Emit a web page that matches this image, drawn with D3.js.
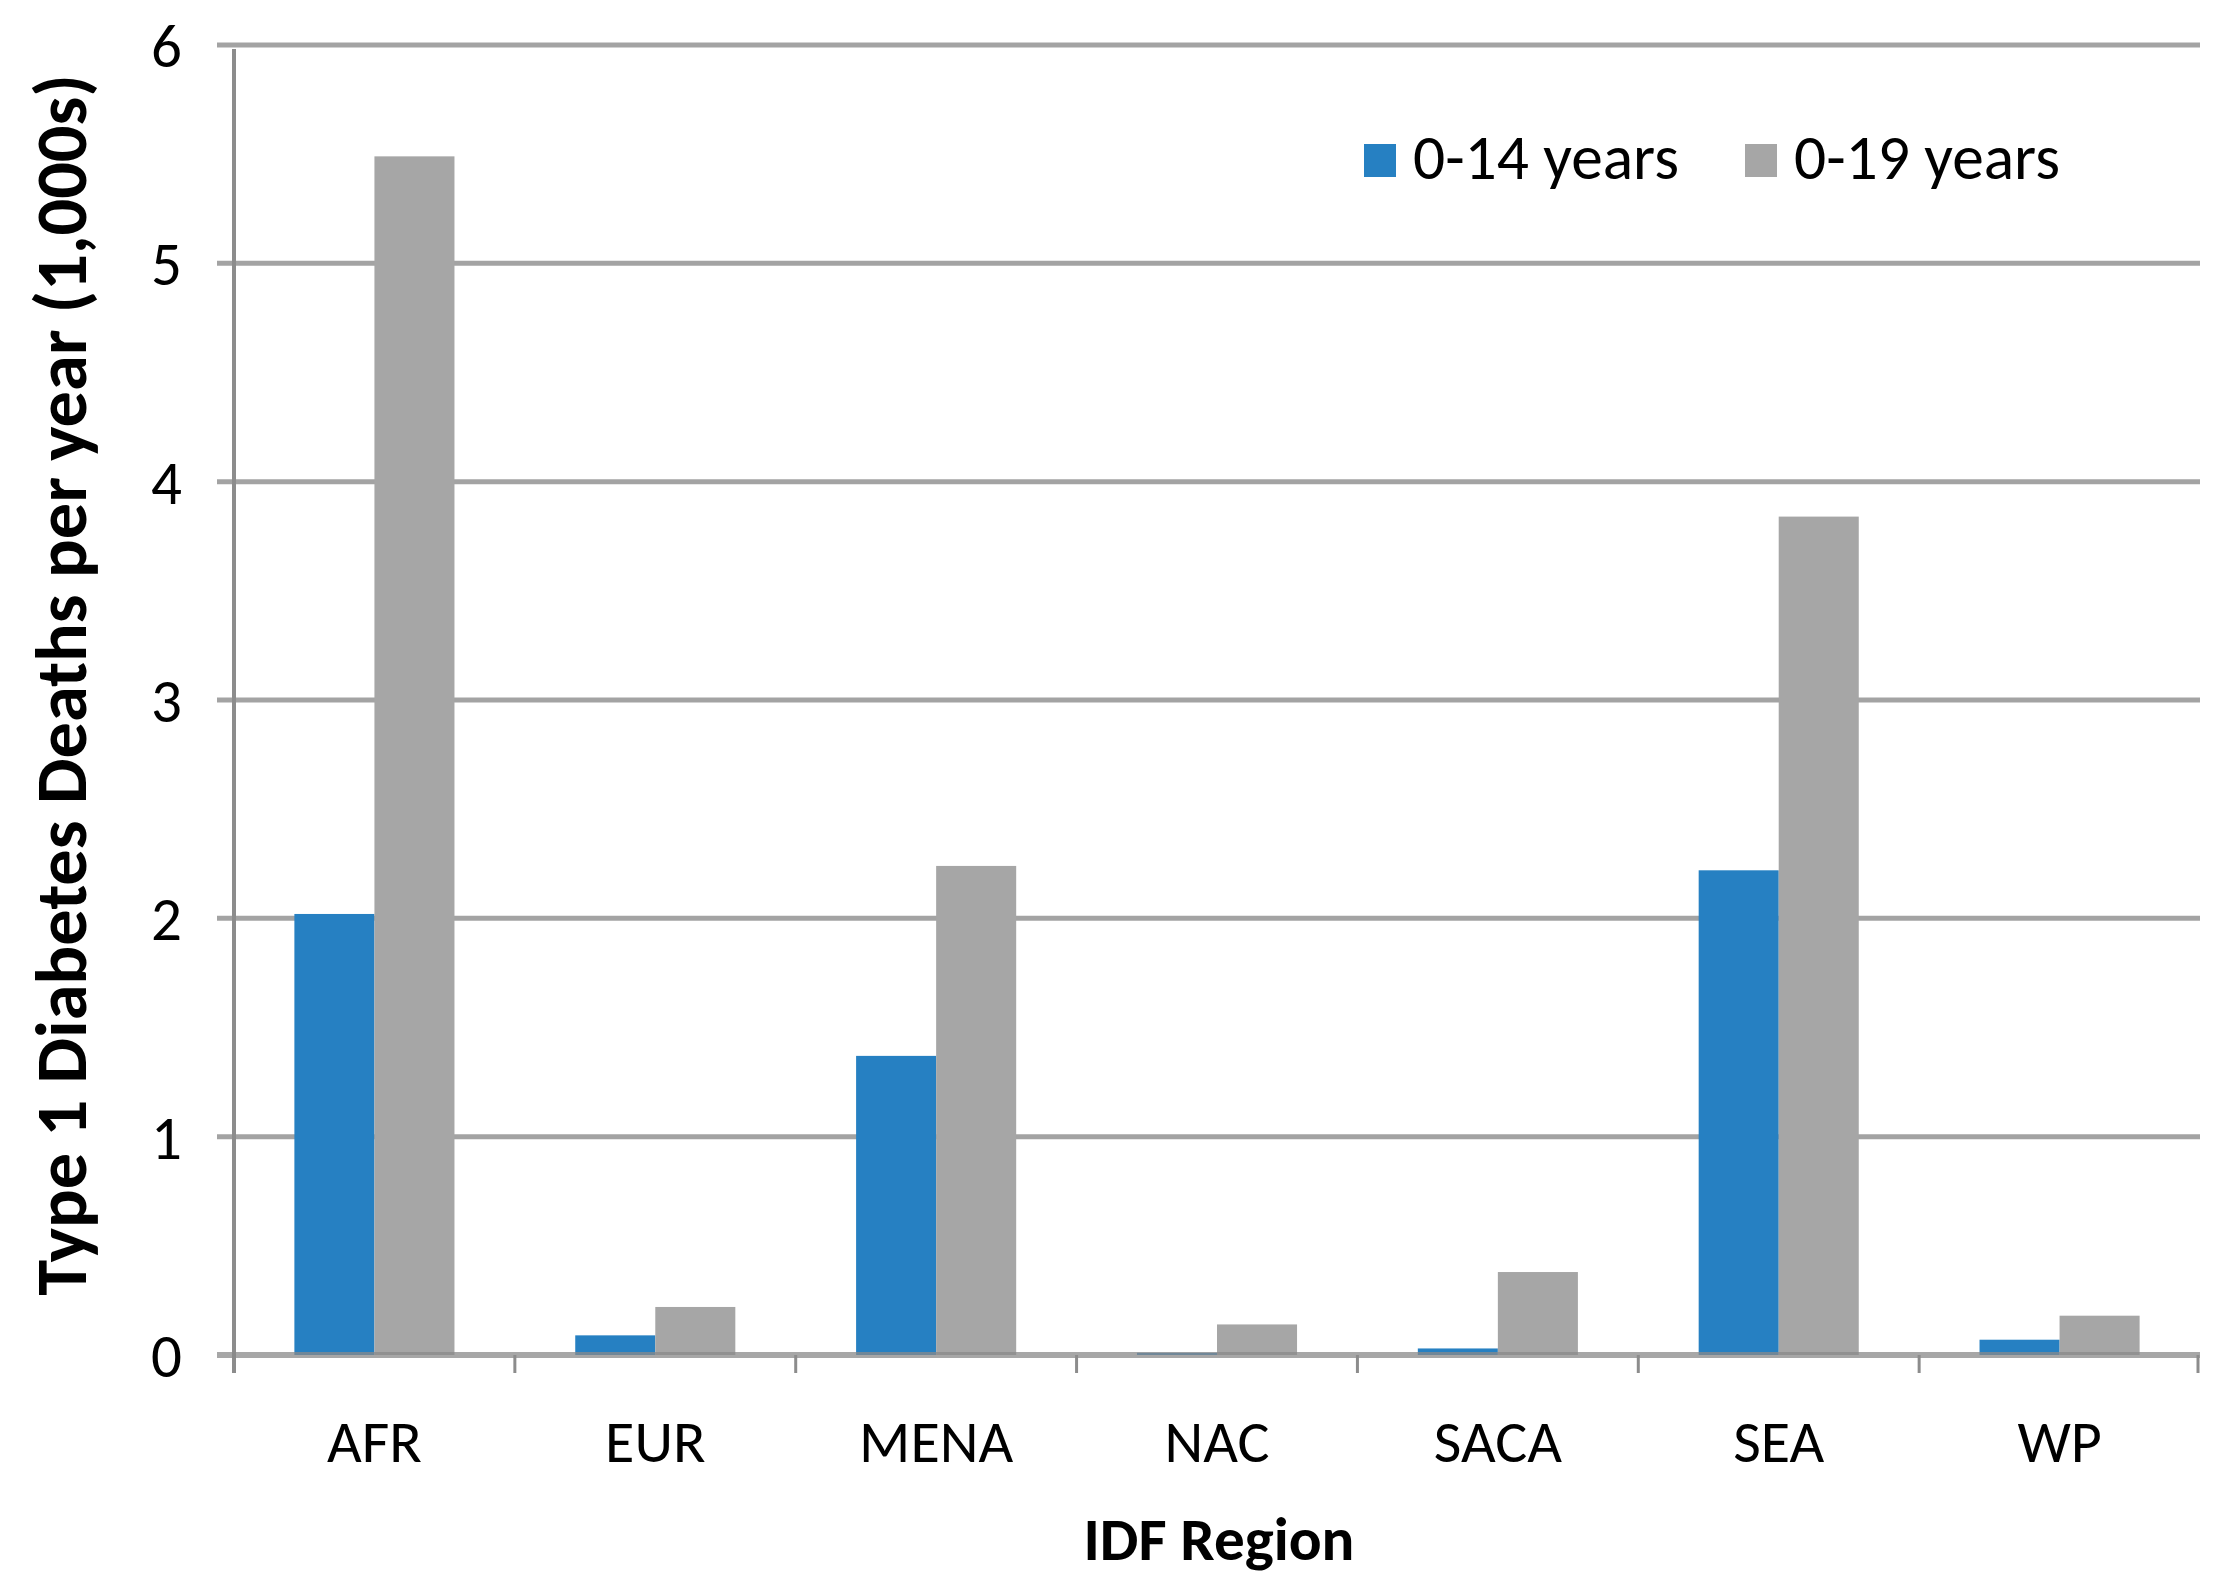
<!DOCTYPE html>
<html>
<head>
<meta charset="utf-8">
<script src="https://cdn.jsdelivr.net/npm/d3@7"></script>
<style>
  html, body { margin: 0; padding: 0; background: #fff; }
  text { font-family: Carlito, Lato, "Open Sans", sans-serif; fill: #000; }
</style>
</head>
<body>
<div class="chart"></div>
<script>
// data
const regions = ['AFR', 'EUR', 'MENA', 'NAC', 'SACA', 'SEA', 'WP'];
const seriesNames = ['0-14 years', '0-19 years'];
const deaths0to14 = [2.02, 0.09, 1.37, 0.01, 0.03, 2.22, 0.07];
const deaths0to19 = [5.49, 0.22, 2.24, 0.14, 0.38, 3.84, 0.18];
const yTicks = [0, 1, 2, 3, 4, 5, 6];
const colors = ['#2680c2', '#a6a6a6'];

const W = 2228;
const H = 1589;
const margin = { top: 45, right: 28, bottom: 234, left: 234 };
const width = W - margin.left - margin.right;
const height = H - margin.top - margin.bottom;

const svg = d3
  .select('.chart')
  .append('svg')
  .attr('width', W)
  .attr('height', H);

const group = svg
  .append('g')
  .attr('transform', 'translate(' + margin.left + ',' + margin.top + ')');

const rows = regions.map((r, i) => ({
  region: r,
  values: [deaths0to14[i], deaths0to19[i]],
}));

// scales
const x0 = d3
  .scaleBand()
  .domain(regions)
  .range([0, width])
  .paddingInner(0.43)
  .paddingOuter(0.215);
const x1 = d3
  .scaleBand()
  .domain([0, 1])
  .range([0, x0.bandwidth()]);
const yScale = d3.scaleLinear().domain([0, 6]).range([height, 0]);

// gridlines (with outward tick stubs left of the axis)
group
  .append('g')
  .attr('class', 'grid')
  .selectAll('line')
  .data(yTicks.filter((d) => d > 0))
  .join('line')
  .attr('x1', -17)
  .attr('x2', width)
  .attr('y1', (d) => yScale(d))
  .attr('y2', (d) => yScale(d))
  .attr('stroke', '#a3a3a3')
  .attr('stroke-width', 5);

// bars
const barGroups = group
  .append('g')
  .selectAll('g')
  .data(rows)
  .join('g')
  .attr('transform', (d) => 'translate(' + x0(d.region) + ',0)');

barGroups
  .selectAll('rect')
  .data((d) => d.values.map((v, k) => ({ k, v })))
  .join('rect')
  .attr('x', (d) => x1(d.k))
  .attr('width', x1.bandwidth())
  .attr('y', (d) => yScale(d.v))
  .attr('height', (d) => yScale(0) - yScale(d.v))
  .attr('fill', (d) => colors[d.k]);

// y axis line
group
  .append('line')
  .attr('x1', 0)
  .attr('x2', 0)
  .attr('y1', yScale(6) + 4)
  .attr('y2', height + 18)
  .attr('stroke', '#8c8c8c')
  .attr('stroke-width', 4);

// x axis line, drawn over the bars
group
  .append('line')
  .attr('x1', -17)
  .attr('x2', width)
  .attr('y1', height)
  .attr('y2', height)
  .attr('stroke', '#8a8a8a')
  .attr('stroke-opacity', 0.75)
  .attr('stroke-width', 6);

// category boundary ticks
const bounds = d3.range(regions.length + 1).map((i) => i * x0.step());
group
  .append('g')
  .selectAll('line')
  .data(bounds.slice(1))
  .join('line')
  .attr('x1', (d) => Math.min(d, width - 2))
  .attr('x2', (d) => Math.min(d, width - 2))
  .attr('y1', height)
  .attr('y2', height + 18)
  .attr('stroke', '#8c8c8c')
  .attr('stroke-width', 3);

// y tick labels
group
  .append('g')
  .selectAll('text')
  .data(yTicks)
  .join('text')
  .attr('x', -52)
  .attr('y', (d) => yScale(d))
  .attr('dy', '0.36em')
  .attr('text-anchor', 'end')
  .style('font-size', '61px')
  .text((d) => d);

// x tick labels
group
  .append('g')
  .selectAll('text')
  .data(regions)
  .join('text')
  .attr('x', (d) => x0(d) + x0.bandwidth() / 2)
  .attr('y', height + 107)
  .attr('text-anchor', 'middle')
  .style('font-size', '60px')
  .text((d) => d);

// helper: shrink/grow font so text spans a target length
function fit(sel, target) {
  const len = sel.node().getComputedTextLength();
  const fs = parseFloat(sel.style('font-size'));
  sel.style('font-size', (fs * target) / len + 'px');
}

// axis titles
const xTitle = group
  .append('text')
  .attr('x', 985)
  .attr('y', height + 205)
  .attr('text-anchor', 'middle')
  .style('font-size', '56px')
  .style('font-weight', 'bold')
  .text('IDF Region');
fit(xTitle, 271);

const yTitle = svg
  .append('text')
  .attr('transform', 'translate(86,' + (margin.top + 640) + ') rotate(-90)')
  .attr('text-anchor', 'middle')
  .style('font-size', '56px')
  .style('font-weight', 'bold')
  .text('Type 1 Diabetes Deaths per year (1,000s)');
fit(yTitle, 1222);

// legend
const legendX = [1364, 1745];
const legend = svg
  .append('g')
  .selectAll('g')
  .data(seriesNames)
  .join('g')
  .attr('transform', (d, i) => 'translate(' + legendX[i] + ',144)');

legend
  .append('rect')
  .attr('width', 32)
  .attr('height', 33)
  .attr('fill', (d, i) => colors[i]);

legend
  .append('text')
  .attr('x', 49)
  .attr('y', 35)
  .style('font-size', '54px')
  .text((d) => d)
  .each(function () {
    fit(d3.select(this), 266);
  });
</script>
</body>
</html>
